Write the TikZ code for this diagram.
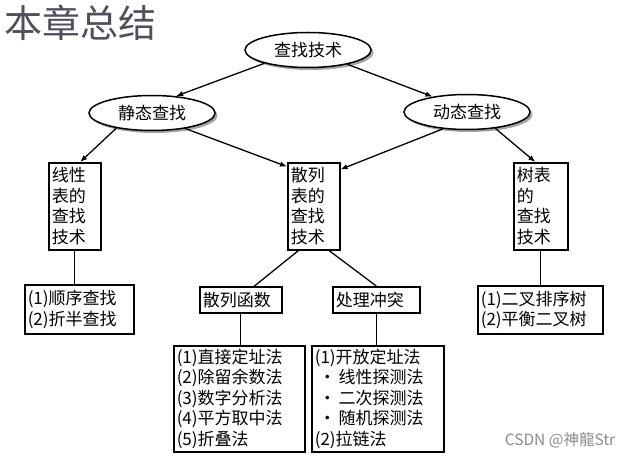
\documentclass[tikz,border=0pt]{standalone}
\usepackage{fontspec}
\setmainfont{Noto Sans CJK SC}
\usepackage{tikz}
\usetikzlibrary{positioning,arrows.meta,calc,shapes.geometric,shadows}
\definecolor{titlegray}{RGB}{80,80,92}
\tikzset{
  flowarrow/.style={-{Latex[length=7pt,width=5.5pt]}, line width=1.3pt},
  linkline/.style={line width=1.3pt},
  topicoval/.style={draw, ellipse, line width=1.5pt, fill=white, minimum width=126pt, minimum height=35pt, inner sep=0pt,
    drop shadow={shadow xshift=2.5pt, shadow yshift=-2.5pt, fill=black!45, opacity=0.8}},
  methodbox/.style={draw, line width=1.5pt, fill=white, inner xsep=3pt, inner ysep=2pt, align=left, anchor=north west,
    drop shadow={shadow xshift=1pt, shadow yshift=-1pt, fill=black!30, opacity=0.7}},
  watermark/.style={text=black!45, font=\fontsize{15.5}{17}\selectfont}
}

\begin{document}
\begin{tikzpicture}[x=1pt, y=-1pt, every node/.style={font=\fontsize{17}{20.5}\selectfont}]
      \useasboundingbox[fill=white] (0,0) rectangle (628,457);
      % title
      \node[anchor=north west, inner sep=0pt, text=titlegray, font=\fontsize{38}{42}\selectfont] (title) at (4,5) {本章总结};
      % ovals
      \node[topicoval] (top) at (308,50) {查找技术};
      \node[topicoval] (stat) at (152,113) {静态查找};
      \node[topicoval] (dyn) at (467,112) {动态查找};
      % technique boxes
      \node[methodbox, text width=46pt, minimum height=87pt] (lin) at (48,162) {线性\\表的\\查找\\技术};
      \node[methodbox, text width=46pt, minimum height=87pt] (sc) at (287,162) {散列\\表的\\查找\\技术};
      \node[methodbox, text width=48pt, minimum height=87pt] (tree) at (513,162) {树表\\的\\查找\\技术};
      % second level
      \node[methodbox, text width=103pt, minimum height=49pt] (seq) at (24,284) {(1)顺序查找\\(2)折半查找};
      \node[methodbox, text width=76pt, minimum height=26pt] (hf) at (199,286) {散列函数};
      \node[methodbox, text width=81pt, minimum height=26pt] (coll) at (332,286) {处理冲突};
      \node[methodbox, text width=119pt, minimum height=48pt] (bst) at (477,285) {(1)二叉排序树\\(2)平衡二叉树};
      % third level
      \node[methodbox, text width=125pt, minimum height=106pt] (hflist) at (173,345)
        {(1)直接定址法\\(2)除留余数法\\(3)数字分析法\\(4)平方取中法\\(5)折叠法};
      \node[methodbox, text width=126pt, minimum height=106pt] (colllist) at (311,345)
        {(1)开放定址法\\\hspace{4pt}·\hspace{3pt}线性探测法\\\hspace{4pt}·\hspace{3pt}二次探测法\\\hspace{4pt}·\hspace{3pt}随机探测法\\(2)拉链法};
      % arrows
      \draw[flowarrow] (top.197) -- (stat.35);
      \draw[flowarrow] (top.340) -- (dyn.156);
      \draw[flowarrow] (stat.203) -- (lin.83);
      \draw[flowarrow] (stat.335) -- (sc.124);
      \draw[flowarrow] (dyn.215) -- (sc.54);
      \draw[flowarrow] (dyn.330) -- (tree.97);
      % plain links
      \draw[linkline] (lin.south) -- (lin.south |- seq.north);
      \draw[linkline] (sc.251) -- (hf.45);
      \draw[linkline] (sc.289) -- (coll.north);
      \draw[linkline] (tree.south) -- (tree.south |- bst.north);
      \draw[linkline] (hf.south) -- (hf.south |- hflist.north);
      \draw[linkline] (coll.south) -- (coll.south |- colllist.north);
      \node[watermark] (mark) at (560,440) {CSDN @神龍Str};
    \end{tikzpicture}
\end{document}
